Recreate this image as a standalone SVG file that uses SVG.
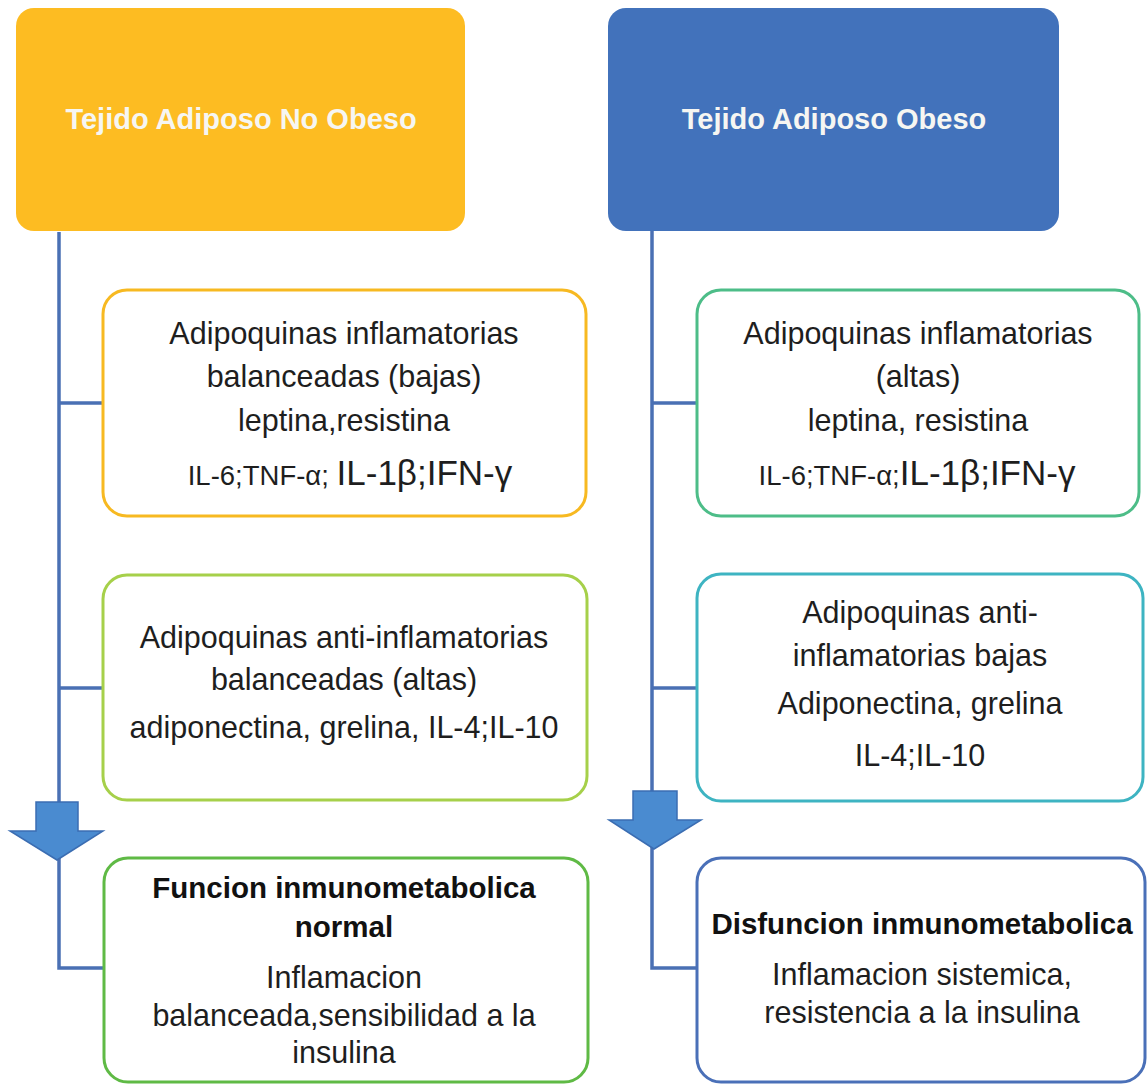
<svg xmlns="http://www.w3.org/2000/svg" width="1148" height="1085" viewBox="0 0 1148 1085">
<style>
.hdr{font-family:"Liberation Sans",Arial,sans-serif;font-weight:bold;font-size:29px;fill:#f6f6f2;text-anchor:middle}
.t{font-family:"Liberation Sans",Arial,sans-serif;font-size:30.5px;fill:#1e1e1e;text-anchor:middle}
.b{font-family:"Liberation Sans",Arial,sans-serif;font-size:29.5px;font-weight:bold;fill:#111;text-anchor:middle}
.sm{font-size:27.5px}
.lg{font-size:35px}
.box{fill:#fff;stroke-width:3}
.conn{fill:none;stroke:#4a70b4;stroke-width:3.5}
.arrow{fill:#4a8bd0;stroke:#3b6db2;stroke-width:1.5}
</style>
<rect width="1148" height="1085" fill="#fff"/>
<g id="connectors">
<path class="conn" d="M59 232 V968 H103 M59 403 H103 M59 688 H103"/>
<path class="conn" d="M652 231 V968 H697 M652 403 H697 M652 688 H697"/>
<polygon class="arrow" points="36,802 78,802 78,831 103,831 57,860 10,831 36,831"/>
<polygon class="arrow" points="633,791 677,791 677,820 701,820 654,849 609,820 633,820"/>
</g>
<g id="hdr-left">
<rect x="16" y="8" width="449" height="223" rx="18" fill="#fdbc22"/>
<text class="hdr" x="241" y="129">Tejido Adiposo No Obeso</text>
</g>
<g id="hdr-right">
<rect x="608" y="8" width="451" height="223" rx="18" fill="#4272bb"/>
<text class="hdr" x="834" y="129">Tejido Adiposo Obeso</text>
</g>
<g id="left-box1">
<rect class="box" x="103" y="290" width="483" height="226" rx="24" stroke="#f7b921"/>
<text class="t" x="344" y="344">Adipoquinas inflamatorias</text>
<text class="t" x="344" y="387">balanceadas (bajas)</text>
<text class="t" x="344" y="431">leptina,resistina</text>
<text class="t" x="350" y="485"><tspan class="sm">IL-6;TNF-α; </tspan><tspan class="lg">IL-1β;IFN-γ</tspan></text>
</g>
<g id="left-box2">
<rect class="box" x="103" y="575" width="484" height="225" rx="24" stroke="#a6d04a"/>
<text class="t" x="344" y="648">Adipoquinas anti-inflamatorias</text>
<text class="t" x="344" y="690">balanceadas (altas)</text>
<text class="t" x="344" y="738">adiponectina, grelina, IL-4;IL-10</text>
</g>
<g id="left-box3">
<rect class="box" x="104" y="858" width="484" height="224" rx="24" stroke="#5fba45"/>
<text class="b" x="344" y="898">Funcion inmunometabolica</text>
<text class="b" x="344" y="937">normal</text>
<text class="t" x="344" y="988">Inflamacion</text>
<text class="t" x="344" y="1026">balanceada,sensibilidad a la</text>
<text class="t" x="344" y="1063">insulina</text>
</g>
<g id="right-box1">
<rect class="box" x="697" y="290" width="442" height="226" rx="24" stroke="#4dbd88"/>
<text class="t" x="918" y="344">Adipoquinas inflamatorias</text>
<text class="t" x="918" y="387">(altas)</text>
<text class="t" x="918" y="431">leptina, resistina</text>
<text class="t" x="917" y="485"><tspan class="sm">IL-6;TNF-α;</tspan><tspan class="lg">IL-1β;IFN-γ</tspan></text>
</g>
<g id="right-box2">
<rect class="box" x="697" y="574" width="446" height="227" rx="24" stroke="#3eb4c2"/>
<text class="t" x="920" y="623">Adipoquinas anti-</text>
<text class="t" x="920" y="666">inflamatorias bajas</text>
<text class="t" x="920" y="714">Adiponectina, grelina</text>
<text class="t" x="920" y="766">IL-4;IL-10</text>
</g>
<g id="right-box3">
<rect class="box" x="697" y="858" width="448" height="224" rx="24" stroke="#4a70b8"/>
<text class="b" x="922" y="934">Disfuncion inmunometabolica</text>
<text class="t" x="922" y="985">Inflamacion sistemica,</text>
<text class="t" x="922" y="1023">resistencia a la insulina</text>
</g>
</svg>
